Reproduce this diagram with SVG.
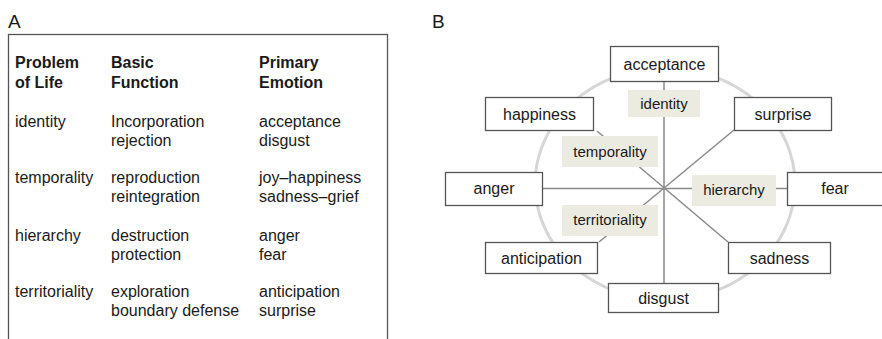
<svg xmlns="http://www.w3.org/2000/svg" width="882" height="339" viewBox="0 0 882 339">
<style>
text{font-family:"Liberation Sans",Arial,sans-serif;fill:#1a1a1a}
.t{font-size:16px}
.h{font-size:16px;font-weight:bold}
.p{font-size:19px}
.box{fill:#fff;stroke:#555;stroke-width:1.3}
.lab{fill:#ebebe2}
.bt{font-size:16px;text-anchor:middle}
.lt{font-size:15px;text-anchor:middle}
.con{stroke:#8a8a8a;stroke-width:1.5;fill:none}
</style>
<rect width="882" height="339" fill="#fff"/>
<g id="panelA">
<text class="p" x="8" y="28">A</text>
<rect x="8.5" y="34.5" width="379" height="320" fill="none" stroke="#555" stroke-width="1.3"/>
<text class="h" x="15" y="68">Problem</text>
<text class="h" x="15" y="88">of Life</text>
<text class="h" x="111" y="68">Basic</text>
<text class="h" x="111" y="88">Function</text>
<text class="h" x="259" y="68">Primary</text>
<text class="h" x="259" y="88">Emotion</text>
<text class="t" x="15" y="127">identity</text>
<text class="t" x="111" y="127">Incorporation</text>
<text class="t" x="111" y="146">rejection</text>
<text class="t" x="259" y="127">acceptance</text>
<text class="t" x="259" y="146">disgust</text>
<text class="t" x="15" y="183">temporality</text>
<text class="t" x="111" y="183">reproduction</text>
<text class="t" x="111" y="202">reintegration</text>
<text class="t" x="259" y="183">joy–happiness</text>
<text class="t" x="259" y="202">sadness–grief</text>
<text class="t" x="15" y="241">hierarchy</text>
<text class="t" x="111" y="241">destruction</text>
<text class="t" x="111" y="260">protection</text>
<text class="t" x="259" y="241">anger</text>
<text class="t" x="259" y="260">fear</text>
<text class="t" x="15" y="297">territoriality</text>
<text class="t" x="111" y="297">exploration</text>
<text class="t" x="111" y="316">boundary defense</text>
<text class="t" x="259" y="297">anticipation</text>
<text class="t" x="259" y="316">surprise</text>
</g>
<text class="p" x="432" y="28">B</text>
<ellipse cx="665" cy="184" rx="130" ry="116" fill="none" stroke="#d6d6d6" stroke-width="3"/>
<g id="connectors">
<line class="con" x1="664" y1="82" x2="664" y2="283"/>
<line class="con" x1="542" y1="188.5" x2="787" y2="188.5"/>
<line class="con" x1="597" y1="131" x2="728" y2="242"/>
<line class="con" x1="734" y1="130" x2="599" y2="242"/>
</g>
<g id="acceptance"><rect class="box" x="610.5" y="46.5" width="108" height="35"/><text class="bt" x="664.5" y="69.5">acceptance</text></g>
<g id="happiness"><rect class="box" x="485.5" y="97.5" width="108" height="33"/><text class="bt" x="539.5" y="119.5">happiness</text></g>
<g id="surprise"><rect class="box" x="734.5" y="97.5" width="97" height="33"/><text class="bt" x="783" y="119.5">surprise</text></g>
<g id="anger"><rect class="box" x="445.5" y="172.5" width="97" height="33"/><text class="bt" x="494" y="194">anger</text></g>
<g id="fear"><rect class="box" x="787.5" y="172.5" width="110" height="33"/><text class="bt" x="835" y="194">fear</text></g>
<g id="anticipation"><rect class="box" x="485.5" y="242.5" width="112" height="31"/><text class="bt" x="541.5" y="264">anticipation</text></g>
<g id="sadness"><rect class="box" x="728.5" y="242.5" width="102" height="31"/><text class="bt" x="779.5" y="264">sadness</text></g>
<g id="disgust"><rect class="box" x="608.5" y="283.5" width="110" height="29"/><text class="bt" x="663.5" y="304">disgust</text></g>
<g id="identity"><rect class="lab" x="628" y="90" width="72" height="27"/><text class="lt" x="664" y="109">identity</text></g>
<g id="temporality"><rect class="lab" x="562" y="136" width="96" height="31"/><text class="lt" x="610" y="157">temporality</text></g>
<g id="hierarchy"><rect class="lab" x="692" y="175" width="84" height="31"/><text class="lt" x="734" y="195">hierarchy</text></g>
<g id="territoriality"><rect class="lab" x="562" y="205" width="96" height="31"/><text class="lt" x="610" y="225">territoriality</text></g>
</svg>
